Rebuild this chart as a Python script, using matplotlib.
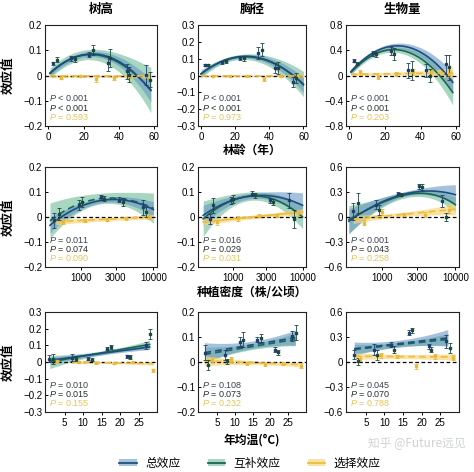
import numpy as np
import matplotlib
matplotlib.use("Agg")
import matplotlib.pyplot as plt
from matplotlib.patches import Patch
from matplotlib.lines import Line2D
from matplotlib.font_manager import FontProperties

plt.rcParams['font.family'] = ['Liberation Sans', 'Noto Sans CJK SC', 'DejaVu Sans']
plt.rcParams['mathtext.fontset'] = 'custom'
plt.rcParams['mathtext.it'] = 'Liberation Sans:italic'
plt.rcParams['mathtext.rm'] = 'Liberation Sans'
plt.rcParams['axes.unicode_minus'] = True

CJK = ['Noto Sans CJK SC', 'DejaVu Sans']

# ---------------- text ----------------
col_titles = ['树高', '胸径', '生物量']
row_xlabels = ['林龄（年）', '种植密度（株/公顷）', '年均温(°C)']
ylabel_text = '效应值'
legend_labels = ['总效应', '互补效应', '选择效应']
watermark = '知乎 @Future远见'

# ---------------- row 1: 林龄 ----------------
ht_age_tx = [2.9, 13.0, 23.3, 33.7, 44.4, 55.4]
ht_age_ty = [0.049, 0.068, 0.082, 0.049, 0.016, 0.003]
ht_age_te = [0.006, 0.010, 0.010, 0.030, 0.030, 0.040]
ht_age_cx = [4.8, 15.0, 25.2, 35.2, 45.8, 57.3]
ht_age_cy = [0.062, 0.066, 0.100, 0.068, 0.003, -0.017]
ht_age_ce = [0.010, 0.012, 0.020, 0.035, 0.030, 0.030]
ht_age_sx = [7, 18, 27, 37, 46, 56]
ht_age_sy = [-0.008, -0.002, -0.015, -0.008, -0.003, -0.002]
ht_age_se = [0.006, 0.005, 0.012, 0.008, 0.006, 0.006]
ht_age_fx = [1, 10, 20, 30, 40, 50, 58]
ht_age_ft = [0.008, 0.055, 0.082, 0.082, 0.055, 0.002, -0.060]
ht_age_fc = [0.010, 0.056, 0.081, 0.079, 0.050, 0.000, -0.057]
ht_age_wt = [0.012, 0.010, 0.010, 0.012, 0.018, 0.030, 0.045]
ht_age_wc = [0.020, 0.018, 0.020, 0.025, 0.035, 0.060, 0.090]
ht_age_sfx = [1, 20, 40, 58]
ht_age_fs = [-0.003, -0.003, -0.003, -0.003]
ht_age_ws = [0.006, 0.005, 0.005, 0.007]
ht_age_p = ['< 0.001', '< 0.001', '= 0.593']

dbh_age_tx = [2.3, 12.1, 22.9, 33.6, 43.4, 53.7]
dbh_age_ty = [0.064, 0.079, 0.103, 0.133, 0.044, -0.036]
dbh_age_te = [0.006, 0.010, 0.012, 0.035, 0.030, 0.030]
dbh_age_cx = [4.3, 14.7, 25.2, 35.6, 45.3, 55.7]
dbh_age_cy = [0.064, 0.087, 0.103, 0.153, 0.044, -0.016]
dbh_age_ce = [0.006, 0.012, 0.015, 0.040, 0.035, 0.030]
dbh_age_sx = [7, 17, 27, 37, 47, 57]
dbh_age_sy = [0.0, -0.002, -0.004, -0.020, -0.005, 0.0]
dbh_age_se = [0.005, 0.005, 0.006, 0.012, 0.006, 0.008]
dbh_age_fx = [0, 10, 20, 30, 40, 50, 60]
dbh_age_ft = [0.010, 0.074, 0.108, 0.112, 0.086, 0.030, -0.056]
dbh_age_fc = [0.010, 0.072, 0.106, 0.110, 0.084, 0.028, -0.050]
dbh_age_wt = [0.015, 0.010, 0.010, 0.012, 0.018, 0.030, 0.045]
dbh_age_wc = [0.025, 0.015, 0.015, 0.020, 0.030, 0.050, 0.075]
dbh_age_sfx = [0, 20, 40, 60]
dbh_age_fs = [-0.002, -0.002, -0.002, -0.002]
dbh_age_ws = [0.006, 0.005, 0.005, 0.007]
dbh_age_p = ['< 0.001', '< 0.001', '= 0.973']

bio_age_tx = [2.8, 13.4, 23.3, 33.0, 43.1, 54.2]
bio_age_ty = [0.236, 0.35, 0.39, 0.08, 0.08, 0.18]
bio_age_te = [0.02, 0.04, 0.06, 0.12, 0.10, 0.15]
bio_age_cx = [4.6, 15.2, 25.2, 34.9, 45.3, 56.0]
bio_age_cy = [0.19, 0.34, 0.34, 0.08, 0.0, 0.13]
bio_age_ce = [0.02, 0.04, 0.10, 0.15, 0.10, 0.20]
bio_age_sx = [6, 16, 26, 36, 46, 56]
bio_age_sy = [0.05, -0.02, 0.03, 0.06, 0.05, 0.03]
bio_age_se = [0.04, 0.03, 0.03, 0.05, 0.05, 0.06]
bio_age_fx = [1, 10, 20, 30, 40, 50, 58]
bio_age_ft = [0.064, 0.297, 0.44, 0.465, 0.368, 0.153, -0.107]
bio_age_fc = [0.05, 0.27, 0.394, 0.394, 0.27, 0.02, -0.27]
bio_age_wt = [0.04, 0.03, 0.04, 0.05, 0.07, 0.11, 0.16]
bio_age_wc = [0.04, 0.03, 0.04, 0.05, 0.08, 0.13, 0.20]
bio_age_sfx = [1, 20, 40, 58]
bio_age_fs = [0.02, 0.025, 0.035, 0.042]
bio_age_ws = [0.03, 0.02, 0.04, 0.08]
bio_age_p = ['< 0.001', '< 0.001', '= 0.203']

# ---------------- row 2: 种植密度 ----------------
ht_den_tx = [427, 950, 1900, 3400, 7200]
ht_den_ty = [-0.013, 0.047, 0.080, 0.070, 0.040]
ht_den_te = [0.030, 0.020, 0.010, 0.010, 0.030]
ht_den_cx = [500, 1050, 2100, 3800, 8000]
ht_den_cy = [0.013, 0.060, 0.073, 0.060, 0.020]
ht_den_ce = [0.025, 0.020, 0.010, 0.015, 0.020]
ht_den_sx = [560, 1150, 2300, 4200, 8800]
ht_den_sy = [-0.020, -0.015, -0.010, -0.005, 0.0]
ht_den_se = [0.008, 0.006, 0.005, 0.005, 0.008]
ht_den_fx = [375, 600, 1000, 2000, 3500, 6000, 10000]
ht_den_ft = [-0.033, 0.009, 0.043, 0.067, 0.069, 0.056, 0.030]
ht_den_fc = [-0.015, 0.025, 0.055, 0.075, 0.073, 0.060, 0.035]
ht_den_wt = [0.030, 0.020, 0.012, 0.010, 0.012, 0.020, 0.030]
ht_den_wc = [0.070, 0.050, 0.030, 0.020, 0.025, 0.040, 0.060]
ht_den_sfx = [450, 1000, 3000, 10000]
ht_den_fs = [-0.020, -0.013, -0.006, 0.0]
ht_den_ws = [0.012, 0.008, 0.007, 0.010]
ht_den_p = ['= 0.011', '= 0.074', '= 0.090']

dbh_den_tx = [470, 950, 1900, 3400, 6500]
dbh_den_ty = [-0.007, 0.067, 0.093, 0.067, 0.067]
dbh_den_te = [0.020, 0.015, 0.010, 0.010, 0.030]
dbh_den_cx = [525, 1000, 2100, 3800, 7500]
dbh_den_cy = [0.047, 0.073, 0.087, 0.060, -0.007]
dbh_den_ce = [0.030, 0.015, 0.010, 0.012, 0.035]
dbh_den_sx = [600, 1200, 2400, 4300, 8500]
dbh_den_sy = [-0.020, -0.005, 0.005, 0.005, 0.015]
dbh_den_se = [0.010, 0.010, 0.006, 0.006, 0.010]
dbh_den_fx = [380, 600, 1000, 2000, 3500, 6000, 10000]
dbh_den_ft = [0.007, 0.040, 0.068, 0.085, 0.085, 0.070, 0.047]
dbh_den_fc = [-0.007, 0.035, 0.066, 0.085, 0.075, 0.045, 0.0]
dbh_den_wt = [0.040, 0.025, 0.015, 0.012, 0.015, 0.030, 0.050]
dbh_den_wc = [0.070, 0.045, 0.025, 0.015, 0.020, 0.035, 0.045]
dbh_den_sfx = [380, 1000, 3000, 10000]
dbh_den_fs = [-0.020, -0.008, 0.006, 0.020]
dbh_den_ws = [0.012, 0.008, 0.008, 0.012]
dbh_den_p = ['= 0.016', '= 0.029', '= 0.031']

bio_den_tx = [400, 810, 1630, 3180, 6650]
bio_den_ty = [0.07, 0.15, 0.28, 0.37, 0.19]
bio_den_te = [0.10, 0.05, 0.02, 0.03, 0.07]
bio_den_cx = [470, 900, 1800, 3540, 7400]
bio_den_cy = [0.17, 0.08, 0.27, 0.36, 0.0]
bio_den_ce = [0.12, 0.06, 0.02, 0.04, 0.05]
bio_den_sx = [560, 1000, 2000, 3900, 8200]
bio_den_sy = [-0.07, 0.06, 0.03, 0.03, 0.09]
bio_den_se = [0.03, 0.04, 0.02, 0.03, 0.04]
bio_den_fx = [350, 600, 1000, 2000, 3500, 6000, 10000]
bio_den_ft = [-0.05, 0.08, 0.18, 0.28, 0.31, 0.30, 0.27]
bio_den_fc = [-0.03, 0.08, 0.17, 0.265, 0.29, 0.24, 0.15]
bio_den_wt = [0.15, 0.09, 0.05, 0.03, 0.035, 0.07, 0.12]
bio_den_wc = [0.17, 0.10, 0.06, 0.035, 0.04, 0.06, 0.09]
bio_den_sfx = [400, 1000, 3000, 10000]
bio_den_fs = [-0.035, 0.015, 0.05, 0.09]
bio_den_ws = [0.05, 0.03, 0.03, 0.07]
bio_den_p = ['< 0.001', '= 0.043', '= 0.258']

# ---------------- row 3: 年均温 ----------------
ht_tmp_tx = [0.85, 7.1, 11.4, 16.5, 21.9, 27.1]
ht_tmp_ty = [0.020, 0.026, 0.020, 0.080, 0.034, 0.100]
ht_tmp_te = [0.020, 0.020, 0.010, 0.010, 0.010, 0.020]
ht_tmp_cx = [1.8, 8.0, 12.4, 17.6, 22.8, 28.0]
ht_tmp_cy = [0.020, 0.020, 0.015, 0.090, 0.030, 0.170]
ht_tmp_ce = [0.030, 0.015, 0.010, 0.010, 0.010, 0.030]
ht_tmp_sx = [3.0, 9.0, 13.5, 18.5, 23.5, 29.0]
ht_tmp_sy = [0.005, 0.0, -0.005, -0.005, 0.0, -0.050]
ht_tmp_se = [0.005, 0.005, 0.005, 0.005, 0.008, 0.010]
ht_tmp_fx = [1, 14, 28]
ht_tmp_ft = [0.010, 0.049, 0.090]
ht_tmp_fc = [0.0, 0.052, 0.105]
ht_tmp_wt = [0.020, 0.010, 0.015]
ht_tmp_wc = [0.040, 0.012, 0.025]
ht_tmp_sfx = [7, 18, 29]
ht_tmp_fs = [0.0, -0.005, -0.010]
ht_tmp_ws = [0.010, 0.005, 0.010]
ht_tmp_p = ['= 0.010', '= 0.015', '= 0.155']

dbh_tmp_tx = [1.6, 7.2, 11.5, 16.2, 21.2, 26.1]
dbh_tmp_ty = [0.037, 0.030, 0.080, 0.090, 0.050, 0.104]
dbh_tmp_te = [0.030, 0.020, 0.020, 0.010, 0.010, 0.020]
dbh_tmp_cx = [2.5, 7.7, 12.4, 17.4, 22.1, 27.2]
dbh_tmp_cy = [-0.011, 0.003, 0.090, 0.097, 0.040, 0.118]
dbh_tmp_ce = [0.020, 0.010, 0.030, 0.015, 0.010, 0.030]
dbh_tmp_sx = [3.5, 9.0, 13.5, 18.5, 23.5, 28.5]
dbh_tmp_sy = [0.010, 0.012, -0.005, -0.008, -0.004, -0.015]
dbh_tmp_se = [0.010, 0.010, 0.006, 0.006, 0.006, 0.010]
dbh_tmp_fx = [1.5, 14, 27]
dbh_tmp_ft = [0.037, 0.067, 0.097]
dbh_tmp_fc = [0.030, 0.060, 0.090]
dbh_tmp_wt = [0.040, 0.015, 0.030]
dbh_tmp_wc = [0.030, 0.012, 0.025]
dbh_tmp_sfx = [1.5, 15, 29]
dbh_tmp_fs = [0.005, -0.003, -0.010]
dbh_tmp_ws = [0.020, 0.008, 0.010]
dbh_tmp_p = ['= 0.108', '= 0.073', '= 0.232']

bio_tmp_tx = [1.9, 7.2, 11.7, 16.6, 21.9, 26.5]
bio_tmp_ty = [0.09, 0.15, 0.21, 0.35, 0.19, 0.25]
bio_tmp_te = [0.05, 0.07, 0.03, 0.03, 0.03, 0.08]
bio_tmp_cx = [2.8, 7.9, 12.6, 17.5, 22.6, 27.7]
bio_tmp_cy = [0.01, 0.09, 0.15, 0.38, 0.15, 0.17]
bio_tmp_ce = [0.04, 0.06, 0.04, 0.03, 0.03, 0.06]
bio_tmp_sx = [3.5, 9.0, 13.5, 18.5, 23.5, 28.5]
bio_tmp_sy = [0.04, 0.08, 0.07, -0.05, 0.07, 0.05]
bio_tmp_se = [0.03, 0.03, 0.02, 0.03, 0.03, 0.03]
bio_tmp_fx = [1.9, 14, 27]
bio_tmp_ft = [0.16, 0.22, 0.29]
bio_tmp_fc = [0.15, 0.21, 0.27]
bio_tmp_wt = [0.08, 0.04, 0.10]
bio_tmp_wc = [0.06, 0.03, 0.07]
bio_tmp_sfx = [1.9, 15, 29]
bio_tmp_fs = [0.07, 0.065, 0.06]
bio_tmp_ws = [0.04, 0.025, 0.04]
bio_tmp_p = ['= 0.045', '= 0.070', '= 0.788']

# y ticks per panel
yt_ht_age = [-0.2, -0.1, 0, 0.1, 0.2]
yt_dbh_age = [-0.3, -0.2, -0.1, 0, 0.1, 0.2, 0.3]
yt_bio_age = [-0.8, -0.4, 0, 0.4, 0.8]
yt_ht_den = [-0.2, -0.1, 0, 0.1, 0.2]
yt_dbh_den = [-0.2, -0.1, 0, 0.1, 0.2]
yt_bio_den = [-0.6, -0.3, 0, 0.3, 0.6]
yt_ht_tmp = [-0.3, -0.2, -0.1, 0, 0.1, 0.2, 0.3]
yt_dbh_tmp = [-0.2, -0.1, 0, 0.1, 0.2]
yt_bio_tmp = [-0.6, -0.3, 0, 0.3, 0.6]

# x ticks per row
xt_age = [0, 20, 40, 60]
xt_den = [1000, 3000, 10000]
xt_tmp = [5, 10, 15, 20, 25]

# line styles (total, complementarity, selection)
ls_ht_age = ['-', '-', '--']
ls_dbh_age = ['-', '-', '--']
ls_bio_age = ['-', '-', '--']
ls_ht_den = ['-', '--', '--']
ls_dbh_den = ['-', '-', '-']
ls_bio_den = ['-', '-', '--']
ls_ht_tmp = ['-', '-', '--']
ls_dbh_tmp = ['--', '--', '--']
ls_bio_tmp = ['--', '--', '--']

# ---------------- styling ----------------
TOT_LINE, TOT_BAND, TOT_PT = '#1d4f7c', '#6a98c6', '#1f3f6a'
COM_LINE, COM_BAND, COM_PT = '#1b6650', '#6dbb98', '#1c4a3a'
SEL_LINE, SEL_BAND, SEL_PT = '#f1bb3c', '#f6d87e', '#eab83a'
PCOL = ['#3a4350', '#28302c', '#e2c65c']

W, H = 474, 472
cols = [(45, 157), (198, 306), (346, 459)]
rows = [(25, 126), (167, 267), (312, 412)]
xlims = [(-1.8, 61.5), (320, 11200), (-0.3, 30)]

fig = plt.figure(figsize=(W / 100, H / 100), dpi=100)
fig.patch.set_facecolor('white')


def g(name):
    return globals()[name]


def fmt(v):
    if v == 0:
        return '0'
    s = f'{v:g}'
    return s.replace('-', '\u2212')


row_keys = ['age', 'den', 'tmp']
col_keys = ['ht', 'dbh', 'bio']
xticks_rows = [xt_age, xt_den, xt_tmp]

for r, rk in enumerate(row_keys):
    for c, ck in enumerate(col_keys):
        pre = f'{ck}_{rk}_'
        x0, x1 = cols[c]
        y0, y1 = rows[r]
        ax = fig.add_axes([x0 / W, 1 - y1 / H, (x1 - x0) / W, (y1 - y0) / H])
        ax.set_facecolor('white')
        logx = (r == 1)
        if logx:
            ax.set_xscale('log')
            tr = np.log10
        else:
            tr = lambda v: np.asarray(v, float)

        def dense(fx):
            fx = np.asarray(fx, float)
            if logx:
                return np.logspace(np.log10(fx[0]), np.log10(fx[-1]), 200)
            return np.linspace(fx[0], fx[-1], 200)

        def smooth(fx, vals, deg, xs):
            coef = np.polyfit(tr(fx), np.asarray(vals, float), deg)
            return np.polyval(coef, tr(xs))

        styles = g('ls_' + ck + '_' + rk)
        fx = g(pre + 'fx')
        xs = dense(fx)
        ldeg = 1 if r == 2 else 3
        wdeg = 2 if r == 2 else 3
        yt = smooth(fx, g(pre + 'ft'), ldeg, xs)
        yc = smooth(fx, g(pre + 'fc'), ldeg, xs)
        wt = smooth(fx, g(pre + 'wt'), wdeg, xs)
        wc = smooth(fx, g(pre + 'wc'), wdeg, xs)
        sfx = g(pre + 'sfx')
        sxs = dense(sfx)
        ys = smooth(sfx, g(pre + 'fs'), 1, sxs)
        ws = smooth(sfx, g(pre + 'ws'), 2, sxs)

        ax.fill_between(xs, yc - wc, yc + wc, color=COM_BAND, alpha=0.6, lw=0, zorder=1)
        ax.fill_between(xs, yt - wt, yt + wt, color=TOT_BAND, alpha=0.6, lw=0, zorder=2)
        ax.fill_between(sxs, ys - ws, ys + ws, color=SEL_BAND, alpha=0.7, lw=0, zorder=3)
        ax.axhline(0, color='black', lw=0.9, ls=(0, (3, 2)), zorder=4)

        def lsty(s):
            return '-' if s == '-' else (0, (4, 2.5))
        ax.plot(xs, yc, color=COM_LINE, lw=1.2, ls=lsty(styles[1]), zorder=5)
        ax.plot(xs, yt, color=TOT_LINE, lw=1.2, ls=lsty(styles[0]), zorder=5)
        ax.plot(sxs, ys, color=SEL_LINE, lw=1.2, ls=lsty(styles[2]), zorder=5)

        ekw = dict(fmt='s', ms=1.7, elinewidth=0.6, capsize=1.2, capthick=0.6, zorder=6)
        ax.errorbar(g(pre + 'sx'), g(pre + 'sy'), yerr=g(pre + 'se'), color=SEL_PT, **ekw)
        ax.errorbar(g(pre + 'tx'), g(pre + 'ty'), yerr=g(pre + 'te'), color=TOT_PT, **ekw)
        ax.errorbar(g(pre + 'cx'), g(pre + 'cy'), yerr=g(pre + 'ce'), color=COM_PT, **ekw)

        ytk = g('yt_' + ck + '_' + rk)
        ax.set_ylim(ytk[0], ytk[-1])
        ax.set_yticks(ytk)
        ax.set_yticklabels([fmt(v) for v in ytk])
        ax.set_xlim(*xlims[r])
        xtk = xticks_rows[r]
        ax.set_xticks(xtk)
        ax.set_xticklabels([str(v) for v in xtk])
        ax.minorticks_off()
        ax.tick_params(axis='x', direction='out', length=2.5, width=0.7, pad=1.5, labelsize=7)
        ax.tick_params(axis='y', direction='in', length=2.5, width=0.7, pad=2, labelsize=7)
        for sp in ax.spines.values():
            sp.set_linewidth(0.8)
            sp.set_color('#222222')

        pv = g(pre + 'p')
        for i, (yy, txt) in enumerate(zip([0.275, 0.183, 0.091], pv)):
            ax.text(0.035, yy, r'$P$ ' + txt, transform=ax.transAxes, fontsize=6.5,
                    color=PCOL[i], va='center', ha='left', zorder=7)

        if r == 0:
            fig.text((x0 + x1) / 2 / W, 1 - 9 / H, col_titles[c], ha='center', va='center',
                     fontsize=9, fontweight='bold', family=CJK)
        if c == 0:
            fig.text(8 / W, 1 - ((y0 + y1) / 2) / H, ylabel_text, rotation=90, ha='center',
                     va='center', fontsize=9, fontweight='bold', family=CJK)

xlabel_y = [150, 293, 440]
for r in range(3):
    fig.text(252 / W, 1 - xlabel_y[r] / H, row_xlabels[r], ha='center', va='center',
             fontsize=8.5, fontweight='bold', family=CJK)

fig.text(417 / W, 1 - 444 / H, watermark, ha='center', va='center', fontsize=8.5,
         color='#cfd2d4', family=CJK)

handles = [
    (Patch(facecolor=TOT_BAND, alpha=0.6, lw=0), Line2D([], [], color=TOT_LINE, lw=1.3)),
    (Patch(facecolor=COM_BAND, alpha=0.6, lw=0), Line2D([], [], color=COM_LINE, lw=1.3)),
    (Patch(facecolor=SEL_BAND, alpha=0.7, lw=0), Line2D([], [], color=SEL_LINE, lw=1.3)),
]
fig.legend(handles, legend_labels, loc='center', bbox_to_anchor=(250 / W, 1 - 463 / H),
           ncol=3, frameon=False, prop=FontProperties(family=CJK, size=8.5),
           handlelength=1.5, handleheight=0.5, handletextpad=0.7, columnspacing=2.3)

fig.savefig('out.png', dpi=100, facecolor=fig.get_facecolor())
